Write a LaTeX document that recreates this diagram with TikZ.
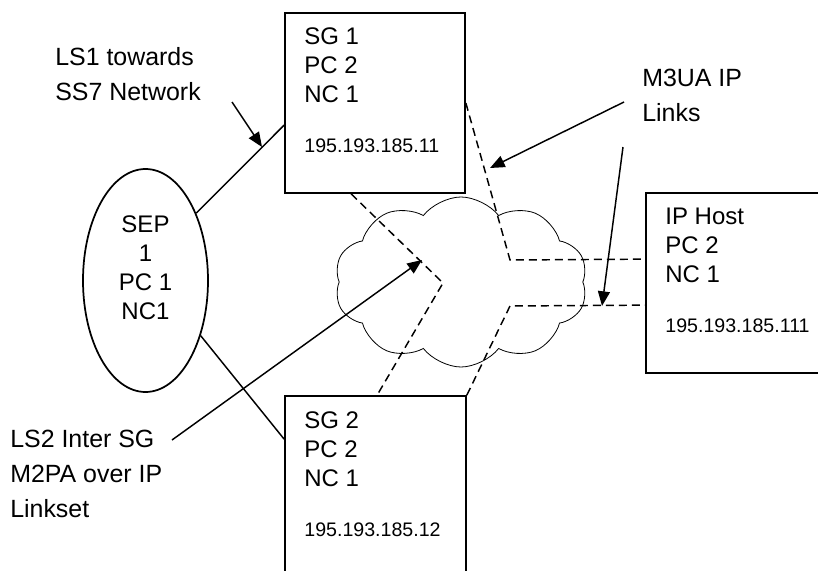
\documentclass[tikz,border=0pt]{standalone}
\usepackage{fontspec}
\setmainfont{Liberation Sans}
\usetikzlibrary{arrows.meta, positioning, shapes.geometric, shapes.symbols, calc}

\newcommand{\ipaddr}[1]{{\fontsize{14.7}{17}\selectfont #1}}

\begin{document}
\begin{tikzpicture}[
    x=0.75pt, y=-0.75pt,
    box/.style={draw, line width=1.3pt, inner sep=0pt, minimum width=135pt, minimum height=135pt},
    boxtext/.style={font=\fontsize{18}{21.75}\selectfont, align=left, inner sep=0pt, anchor=north west},
    lbl/.style={font=\fontsize{18.7}{26.25}\selectfont, align=left, inner sep=0pt, anchor=north west},
    link/.style={line width=1.1pt},
    iplink/.style={line width=1.1pt, dash pattern=on 6pt off 3.75pt},
    pointer/.style={line width=1.1pt, -{Triangle[length=11pt, width=9pt]}}
]
\useasboundingbox (0,0) rectangle (818,571);

% Network elements
\node[draw, ellipse, line width=1.3pt, minimum width=93.75pt, minimum height=167.25pt] (sep) at (145.5,280.5) {};
\node[boxtext, align=center, anchor=north] (septext) at ($(sep.north)+(0,47)$) {SEP\\1\\PC 1\\NC1};

\node[box] (sg1) at (375,103) {};
\node[boxtext] (sg1text) at ($(sg1.north west)+(20,15)$) {SG 1\\PC 2\\NC 1\\[15.75pt]\ipaddr{195.193.185.11}};

\node[box, minimum width=135.75pt, minimum height=141.75pt] (sg2) at (375.5,490.5) {};
\node[boxtext] (sg2text) at ($(sg2.north west)+(20,16)$) {SG 2\\PC 2\\NC 1\\[15.75pt]\ipaddr{195.193.185.12}};

\node[box, minimum width=138pt] (host) at (738,283) {};
\node[boxtext] (hosttext) at ($(host.north west)+(20,16)$) {IP Host\\PC 2\\NC 1\\[15.75pt]\ipaddr{195.193.185.111}};

% IP cloud
\node[cloud, cloud puffs=10, cloud puff arc=105, aspect=1.5, draw, line width=0.6pt, minimum width=189.75pt, minimum height=127.5pt, inner sep=0pt] (net) at (461,282) {};

% SS7 links
\draw[link] (sep.53) -- ($(sg1.north west)+(0,113)$);
\draw[link] (sep.-45) -- ($(sg2.north west)+(0,44)$);

% M3UA / M2PA links over IP
\coordinate (bend1) at (510,260);
\coordinate (bend2) at (510,306);
\coordinate (bend3) at (443,283);
\draw[iplink] (sg1.east) -- (bend1) -- ($(host.north west)+(0,67)$);
\draw[iplink] (sg2.north east) -- (bend2) -- ($(host.north west)+(0,113)$);
\draw[iplink] ($(sg1.south west)+(67,0)$) -- (bend3) -- ($(sg2.north west)+(93,0)$);

% Labels
\node[lbl] (ls1) at (55,47) {LS1 towards\\SS7 Network};
\node[lbl] (m3ua) at (642,69) {M3UA IP\\Links};
\node[lbl] (ls2) at (10,430) {LS2 Inter SG\\M2PA over IP\\Linkset};

% Pointers
\coordinate (ls1tail) at (232,102);
\coordinate (ls1tip) at (262,147);
\coordinate (m3uatail1) at (624,102);
\coordinate (m3uatip1) at (490,168);
\coordinate (m3uatail2) at (623,147);
\coordinate (m3uatip2) at (602,306);
\coordinate (ls2tail) at (172,440);
\coordinate (ls2tip) at (422,260);
\draw[pointer] (ls1tail) -- (ls1tip);
\draw[pointer] (m3uatail1) -- (m3uatip1);
\draw[pointer] (m3uatail2) -- (m3uatip2);
\draw[pointer] (ls2tail) -- (ls2tip);
\end{tikzpicture}
\end{document}
